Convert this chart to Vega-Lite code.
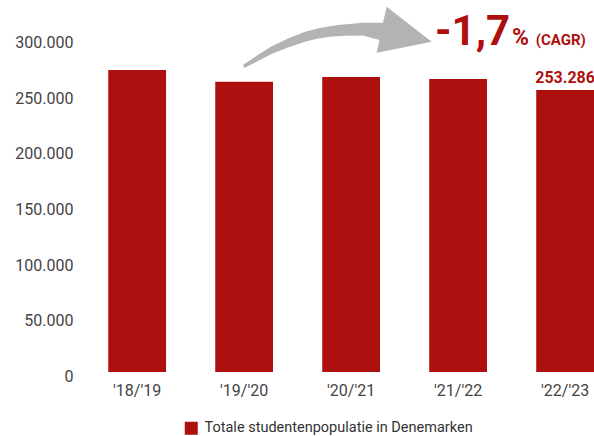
{
  "$schema": "https://vega.github.io/schema/vega-lite/v6.json",
  "width": 511,
  "height": 334,
  "autosize": {"type": "none"},
  "padding": {"left": 83, "top": 38, "right": 0, "bottom": 64},
  "background": "white",
  "config": {
    "view": {"stroke": null},
    "font": "Roboto",
    "locale": {"number": {"decimal": ",", "thousands": ".", "grouping": [3], "currency": ["€", ""]}},
    "axisY": {"title": null, "values": [0, 50000, 100000, 150000, 200000, 250000, 300000], "format": ",d", "labelFontSize": 16, "labelColor": "#444444", "ticks": false, "domain": false, "grid": false, "labelPadding": 10, "labelOffset": 4.5}
  },
  "datasets": {
    "bars": [
      {"year": "'18/'19", "students": 271250, "series": "Totale studentenpopulatie in Denemarken", "label": null},
      {"year": "'19/'20", "students": 260750, "series": "Totale studentenpopulatie in Denemarken", "label": null},
      {"year": "'20/'21", "students": 264970, "series": "Totale studentenpopulatie in Denemarken", "label": null},
      {"year": "'21/'22", "students": 263170, "series": "Totale studentenpopulatie in Denemarken", "label": null},
      {"year": "'22/'23", "students": 253286, "series": "Totale studentenpopulatie in Denemarken", "label": 253286}
    ],
    "arrow": [{"pos": 1.8724, "students": 300449}],
    "cagrNum": [{"pos": 2.784, "students": 293713, "text": "-1,7"}],
    "cagrPct": [{"pos": 3.504, "students": 293713, "text": "%"}],
    "cagrTag": [{"pos": 3.725, "students": 293713, "text": "(CAGR)"}]
  },
  "resolve": {"scale": {"x": "independent"}},
  "layer": [
    {
      "data": {"name": "bars"},
      "layer": [
        {
          "mark": {"type": "bar"},
          "encoding": {
            "x": {
              "field": "year", "type": "nominal", "sort": null,
              "scale": {"paddingInner": 0.46, "paddingOuter": 0.118, "align": 1},
              "axis": {"title": null, "labelAngle": 0, "labelFontSize": 16, "labelColor": "#444444", "ticks": false, "domain": false, "labelPadding": 10, "grid": false}
            },
            "y": {
              "field": "students", "type": "quantitative", "title": null,
              "scale": {"domain": [0, 300000], "nice": false}
            },
            "color": {
              "field": "series", "type": "nominal",
              "scale": {"range": ["#AD100E"]},
              "legend": {"orient": "none", "legendX": 101, "legendY": 383, "title": null, "symbolType": "square", "symbolSize": 169, "symbolStrokeWidth": 0, "labelFontSize": 14.5, "labelColor": "#333333", "labelOffset": 6, "labelLimit": 0, "padding": 0, "direction": "horizontal"}
            }
          }
        },
        {
          "transform": [{"filter": "datum.label != null"}],
          "mark": {"type": "text", "align": "center", "baseline": "alphabetic", "dy": -7, "fontSize": 16, "fontWeight": "bold", "color": "#AD100E"},
          "encoding": {
            "x": {"field": "year", "type": "nominal", "sort": null},
            "y": {"field": "students", "type": "quantitative", "title": null, "scale": {"domain": [0, 300000], "nice": false}},
            "text": {"field": "label", "type": "quantitative", "format": ",d"}
          }
        }
      ]
    },
    {
      "data": {"name": "arrow"},
      "mark": {
        "type": "point", "filled": true, "opacity": 1, "color": "#B3B3B3", "strokeWidth": 0, "size": 40000,
        "shape": "M-0.945,0.275 L-0.805,0.18 L-0.665,0.092 L-0.495,0.01 L-0.325,-0.058 L-0.165,-0.097 L0.005,-0.125 L0.255,-0.148 L0.455,-0.148 L0.492,-0.308 L0.942,0.042 L0.392,0.152 L0.42,0.025 L0.255,-0.02 L0.085,-0.017 L-0.075,-0.008 L-0.205,0.013 L-0.325,0.042 L-0.495,0.1 L-0.665,0.168 L-0.805,0.24 L-0.93,0.305 Z"
      },
      "encoding": {
        "x": {"field": "pos", "type": "quantitative", "scale": {"domain": [-0.506, 4.27], "nice": false, "zero": false}, "axis": null},
        "y": {"field": "students", "type": "quantitative", "title": null, "scale": {"domain": [0, 300000], "nice": false}}
      }
    },
    {
      "data": {"name": "cagrNum"},
      "mark": {"type": "text", "align": "left", "baseline": "alphabetic", "fontSize": 42, "fontWeight": "bold", "color": "#AD100E"},
      "encoding": {
        "x": {"field": "pos", "type": "quantitative", "scale": {"domain": [-0.506, 4.27], "nice": false, "zero": false}, "axis": null},
        "y": {"field": "students", "type": "quantitative", "title": null, "scale": {"domain": [0, 300000], "nice": false}},
        "text": {"field": "text"}
      }
    },
    {
      "data": {"name": "cagrPct"},
      "mark": {"type": "text", "align": "left", "baseline": "alphabetic", "fontSize": 23, "fontWeight": "bold", "color": "#AD100E"},
      "encoding": {
        "x": {"field": "pos", "type": "quantitative", "scale": {"domain": [-0.506, 4.27], "nice": false, "zero": false}, "axis": null},
        "y": {"field": "students", "type": "quantitative", "title": null, "scale": {"domain": [0, 300000], "nice": false}},
        "text": {"field": "text"}
      }
    },
    {
      "data": {"name": "cagrTag"},
      "mark": {"type": "text", "align": "left", "baseline": "alphabetic", "fontSize": 15, "fontWeight": "bold", "color": "#AD100E"},
      "encoding": {
        "x": {"field": "pos", "type": "quantitative", "scale": {"domain": [-0.506, 4.27], "nice": false, "zero": false}, "axis": null},
        "y": {"field": "students", "type": "quantitative", "title": null, "scale": {"domain": [0, 300000], "nice": false}},
        "text": {"field": "text"}
      }
    }
  ]
}
